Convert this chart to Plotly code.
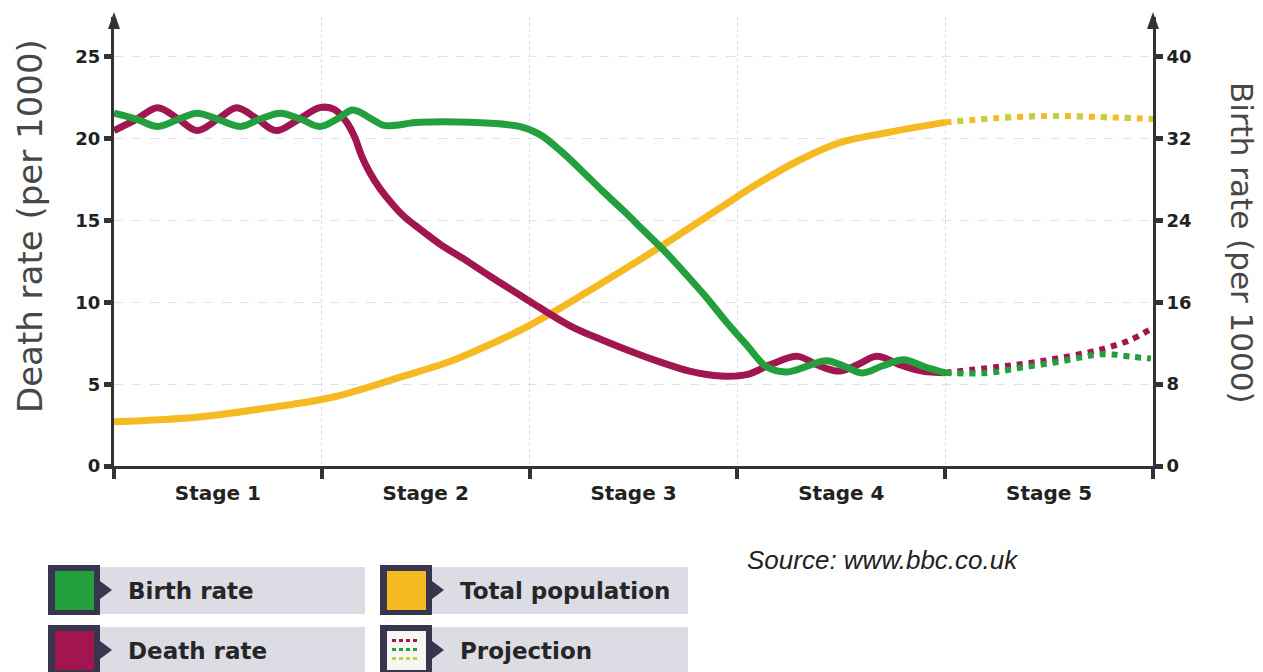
import plotly.graph_objects as go

# ---------------- data ----------------
stage_labels = ["Stage 1", "Stage 2", "Stage 3", "Stage 4", "Stage 5"]
stage_centers = [0.5, 1.5, 2.5, 3.5, 4.5]
stage_edges = [0, 1, 2, 3, 4, 5]
death_ticks = [0, 5, 10, 15, 20, 25]
birth_ticks = [0, 8, 16, 24, 32, 40]

# Birth rate (per 1000) - right axis
birth_x = [0, 0.11, 0.21, 0.31, 0.40, 0.50, 0.61, 0.70, 0.80, 0.90, 0.99, 1.08, 1.15,
           1.25, 1.30, 1.47, 1.71, 1.95, 2.05, 2.15, 2.25, 2.35, 2.45, 2.55, 2.65,
           2.75, 2.85, 2.95, 3.05, 3.14, 3.24, 3.34, 3.43, 3.52, 3.60, 3.70, 3.80,
           3.90, 4.0]
birth_y = [34.5, 33.9, 33.2, 33.9, 34.5, 33.9, 33.2, 33.9, 34.5, 33.9, 33.2, 34.0, 34.8,
           33.8, 33.3, 33.6, 33.6, 33.2, 32.4, 30.8, 28.9, 26.9, 25.0, 23.0, 21.0,
           18.8, 16.5, 14.0, 11.7, 9.7, 9.2, 9.8, 10.3, 9.7, 9.1, 9.8, 10.4,
           9.7, 9.1]
birth_proj_x = [4.0, 4.20, 4.36, 4.52, 4.65, 4.73, 4.81, 4.89, 4.99]
birth_proj_y = [9.1, 9.1, 9.6, 10.1, 10.6, 10.9, 10.9, 10.7, 10.5]

# Death rate (per 1000) - left axis
death_x = [0, 0.11, 0.21, 0.31, 0.40, 0.50, 0.59, 0.69, 0.78, 0.89, 0.99, 1.06, 1.12,
           1.16, 1.19, 1.23, 1.28, 1.34, 1.40, 1.47, 1.57, 1.69, 1.81, 1.99, 2.19,
           2.35, 2.53, 2.63, 2.77, 2.92, 3.05, 3.16, 3.29, 3.38, 3.49, 3.58, 3.67,
           3.78, 3.89, 4.0]
death_y = [20.5, 21.2, 21.9, 21.2, 20.5, 21.2, 21.9, 21.2, 20.5, 21.2, 21.9, 21.8, 21.0,
           20.05, 19.0, 17.95, 16.95, 16.0, 15.2, 14.5, 13.55, 12.6, 11.6, 10.15, 8.6,
           7.7, 6.8, 6.35, 5.8, 5.5, 5.6, 6.2, 6.7, 6.2, 5.8, 6.2, 6.7,
           6.2, 5.8, 5.7]
death_proj_x = [4.0, 4.25, 4.41, 4.55, 4.70, 4.79, 4.89, 5.0]
death_proj_y = [5.7, 6.05, 6.3, 6.6, 6.97, 7.27, 7.7, 8.44]

# Total population (relative, drawn against the left scale)
pop_x = [0, 0.41, 0.74, 1.05, 1.37, 1.62, 1.76, 1.89, 2.00, 2.10, 2.35, 2.63, 2.92,
         3.11, 3.30, 3.49, 3.73, 4.0]
pop_y = [2.7, 3.0, 3.55, 4.2, 5.4, 6.4, 7.15, 7.9, 8.6, 9.3, 11.2, 13.4, 15.8,
         17.35, 18.7, 19.75, 20.4, 21.0]
pop_proj_x = [4.0, 4.26, 4.50, 4.74, 5.0]
pop_proj_y = [21.0, 21.27, 21.39, 21.33, 21.21]

legend_labels = ["Birth rate", "Death rate", "Total population", "Projection"]
source_text = "Source: www.bbc.co.uk"

# ---------------- styles ----------------
GREEN = "#23a03d"
RED = "#a1164f"
YELLOW = "#f5b922"
YGREEN = "#c8cf3e"
AX = "#333333"
DARKBOX = "#38364f"
BAND = "#dcdce5"
TXT = "#262626"
W, H = 1263, 672
L, R, T, B = 114, 110, 17, 206
PW, PH = W - L - R, H - T - B


def px(x):
    return (x - L) / PW


def py(y):
    return (H - B - y) / PH


fig = go.Figure()
fig.add_trace(go.Scatter(x=pop_x, y=pop_y, mode="lines", yaxis="y",
                         line=dict(color=YELLOW, width=7, shape="spline"), hoverinfo="skip"))
fig.add_trace(go.Scatter(x=pop_proj_x, y=pop_proj_y, mode="lines", yaxis="y",
                         line=dict(color=YELLOW, width=6, shape="spline", dash="6px,6px"), hoverinfo="skip"))
fig.add_trace(go.Scatter(x=pop_proj_x, y=pop_proj_y, mode="lines", yaxis="y",
                         line=dict(color=YGREEN, width=6, shape="spline", dash="0px,12px,6px,6px"), hoverinfo="skip"))
fig.add_trace(go.Scatter(x=death_x, y=death_y, mode="lines", yaxis="y",
                         line=dict(color=RED, width=7, shape="spline"), hoverinfo="skip"))
fig.add_trace(go.Scatter(x=death_proj_x, y=death_proj_y, mode="lines", yaxis="y",
                         line=dict(color=RED, width=6, shape="spline", dash="6px,6px"), hoverinfo="skip"))
fig.add_trace(go.Scatter(x=birth_x, y=birth_y, mode="lines", yaxis="y2",
                         line=dict(color=GREEN, width=7, shape="spline"), hoverinfo="skip"))
fig.add_trace(go.Scatter(x=birth_proj_x, y=birth_proj_y, mode="lines", yaxis="y2",
                         line=dict(color=GREEN, width=6, shape="spline", dash="6px,6px"), hoverinfo="skip"))

tickfont = dict(family="DejaVu Sans", size=18, color="#222222", weight="bold")

fig.update_layout(
    width=W, height=H,
    margin=dict(l=L, r=R, t=T, b=B, pad=0),
    paper_bgcolor="white", plot_bgcolor="white",
    showlegend=False,
    xaxis=dict(range=[0, 5], showline=True, linecolor=AX, linewidth=3, showgrid=False,
               zeroline=False, tickmode="array", tickvals=stage_centers, ticktext=stage_labels,
               ticks="", ticklabelstandoff=7,
               tickfont=dict(family="DejaVu Sans", size=20, color="#222222", weight="bold"),
               minor=dict(tickmode="array", tickvals=stage_edges, ticks="outside", ticklen=10,
                          tickwidth=4, tickcolor=AX, showgrid=True, gridcolor="#d9d9d9",
                          griddash="dot", gridwidth=1)),
    yaxis=dict(range=[0, 27.44], tickmode="array", tickvals=death_ticks, ticks="outside",
               ticklen=7, tickwidth=5, tickcolor=AX, showline=True, linecolor=AX, linewidth=3,
               showgrid=True, gridcolor="#e2e2e2", griddash="dash", gridwidth=1,
               zeroline=False, tickfont=tickfont),
    yaxis2=dict(range=[0, 43.9], overlaying="y", side="right", tickmode="array",
                tickvals=birth_ticks, ticks="outside", ticklen=7, tickwidth=5, tickcolor=AX,
                showline=True, linecolor=AX, linewidth=3, showgrid=False, zeroline=False,
                tickfont=tickfont),
)

shapes = []
# axis arrowheads
for ax_x in (L, L + PW):
    shapes.append(dict(type="path", xref="paper", yref="paper",
                       path=f"M {px(ax_x-6)},{py(29)} L {px(ax_x)},{py(12)} L {px(ax_x+6)},{py(29)} Z",
                       fillcolor=AX, line=dict(width=0)))

# legend
fills = [GREEN, RED, YELLOW, None]
cols = [48, 380]
band_right = [365, 688]
rows = [565, 625]
annotations = []
for i, lab in enumerate(legend_labels):
    c = i // 2
    r = i % 2
    x0 = cols[c]
    y0 = rows[r]
    shapes.append(dict(type="rect", xref="paper", yref="paper", x0=px(x0 + 50), x1=px(band_right[c]),
                       y0=py(y0 + 2), y1=py(y0 + 49), fillcolor=BAND, line=dict(width=0), layer="above"))
    shapes.append(dict(type="rect", xref="paper", yref="paper", x0=px(x0), x1=px(x0 + 52),
                       y0=py(y0), y1=py(y0 + 50), fillcolor=DARKBOX, line=dict(width=0), layer="above"))
    shapes.append(dict(type="path", xref="paper", yref="paper",
                       path=f"M {px(x0+52)},{py(y0+16)} L {px(x0+64)},{py(y0+25)} L {px(x0+52)},{py(y0+34)} Z",
                       fillcolor=DARKBOX, line=dict(width=0), layer="above"))
    inner = fills[i] if fills[i] else "#f6f6f2"
    shapes.append(dict(type="rect", xref="paper", yref="paper", x0=px(x0 + 7), x1=px(x0 + 46),
                       y0=py(y0 + 6), y1=py(y0 + 45), fillcolor=inner, line=dict(width=0), layer="above"))
    if fills[i] is None:
        for rr, colr in enumerate([RED, GREEN, YGREEN]):
            for k in range(4):
                xx = x0 + 12 + k * 7
                yy = y0 + 14 + rr * 9
                shapes.append(dict(type="rect", xref="paper", yref="paper", x0=px(xx), x1=px(xx + 4),
                                   y0=py(yy), y1=py(yy + 3), fillcolor=colr, line=dict(width=0),
                                   layer="above"))
    annotations.append(dict(xref="paper", yref="paper", x=px(x0 + 78), y=py(y0 + 26),
                            xanchor="left", yanchor="middle", showarrow=False, text=lab,
                            font=dict(family="DejaVu Sans", size=23, color=TXT, weight="bold")))

annotations.append(dict(xref="paper", yref="paper", x=px(745), y=py(560), xanchor="left",
                        yanchor="middle", showarrow=False, text=f"<i>{source_text}</i>",
                        font=dict(family="Liberation Sans", size=26, color="#222222")))
annotations.append(dict(xref="paper", yref="paper", x=px(30), y=py(226), xanchor="center",
                        yanchor="middle", showarrow=False, textangle=-90,
                        text="Death rate (per 1000)",
                        font=dict(family="DejaVu Sans", size=34, color="#474747")))
annotations.append(dict(xref="paper", yref="paper", x=px(1242), y=py(243), xanchor="center",
                        yanchor="middle", showarrow=False, textangle=90,
                        text="Birth rate (per 1000)",
                        font=dict(family="DejaVu Sans", size=31, color="#474747")))

fig.update_layout(shapes=shapes, annotations=annotations)

fig.write_html("out.html", config={"displayModeBar": False},
               post_script="document.body.style.margin='0';document.body.style.overflow='hidden';")
